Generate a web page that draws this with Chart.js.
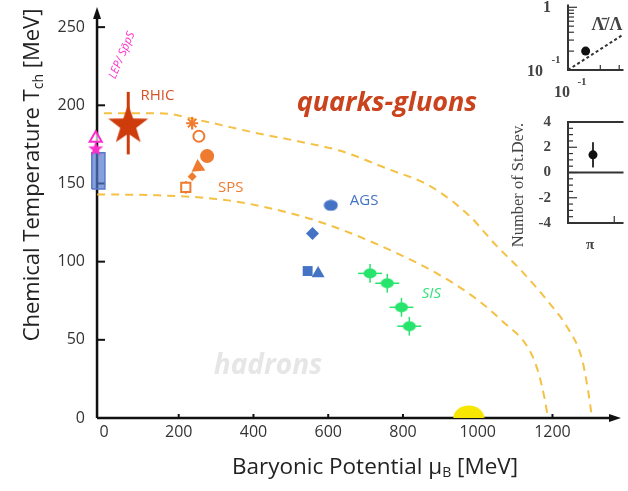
<!DOCTYPE html>
<html>
<head>
<meta charset="utf-8">
<script src="https://cdn.jsdelivr.net/npm/chart.js@4.4.0/dist/chart.umd.min.js"></script>
<style>
body { margin: 0; background: #fff; }
#wrap { position: relative; width: 628px; height: 491px; overflow: hidden; }
canvas { position: absolute; }
</style>
</head>
<body>
<div id="wrap">
  <canvas id="main" width="628" height="491" style="left:0;top:0"></canvas>
  <canvas id="ratio" width="128" height="110" style="left:500px;top:0"></canvas>
  <canvas id="stdev" width="128" height="150" style="left:500px;top:105px"></canvas>
</div>
<script>
// ticks
const xTicks = [0, 200, 400, 600, 800, 1000, 1200]
const yTicks = [0, 50, 100, 150, 200, 250]

// LEP / SppS
const lepTriMu = [-22], lepTriT = [179]
const lepStarMu = [-22], lepStarT = [172.5]
const lepBoxMu = [-32.5, 2.6]
const lepBoxT = [146.4, 169.6]

// RHIC
const rhicMu = [65], rhicT = [188.6], rhicErrT = [20]

// SPS
const spsOpenStarMu = [236], spsOpenStarT = [188.6], spsOpenStarErrT = [4]
const spsOpenCircMu = [254], spsOpenCircT = [180.2]
const spsCircMu = [276], spsCircT = [167.5]
const spsTriMu = [252], spsTriT = [160.5]
const spsDiaMu = [236], spsDiaT = [154.5]
const spsOpenSqMu = [219], spsOpenSqT = [147.5], spsOpenSqErrT = [4]

// AGS
const agsCircMu = [607], agsCircT = [136]
const agsDiaMu = [558], agsDiaT = [118]
const agsSqMu = [545], agsSqT = [94]
const agsTriMu = [573], agsTriT = [92.5]

// SIS
const sisMu = [712, 758, 796, 817]
const sisT = [92.5, 86.2, 70.8, 58.7]
const sisErrMu = [32, 32, 32, 32]
const sisErrT = [6, 6, 6, 6]

// nuclear matter
const nucMu = [976], nucT = [0]

// freeze-out / transition curves
const outerMu = [0, 148, 254, 413, 519, 632, 765, 870, 976, 1048, 1119, 1188, 1241, 1278, 1294, 1306]
const outerT = [195, 195, 190.5, 182, 177, 170.9, 158.8, 148.7, 129.7, 110.7, 93.6, 74.6, 57.5, 38.5, 19.5, 0]
const innerMu = [-18, 148, 333, 519, 632, 783, 897, 995, 1066, 1135, 1161, 1180, 1188]
const innerT = [143, 142.4, 139.2, 129.7, 120.8, 105.5, 91.6, 76.4, 61.9, 44.8, 30.2, 11.2, 0]

// inset: antilambda / lambda
const ratioDotX = [0.146], ratioDotY = [0.2]
const ratioLineX = [0.1, 0.329], ratioLineY = [0.1, 0.37]
const ratioMinorY = [0.2, 0.3, 0.4, 0.5, 0.6, 0.7, 0.8, 0.9, 1]
const ratioMinorX = [0.2, 0.3]

// inset: number of st.dev.
const devX = [1.08], devY = [1.4], devErr = [1]
const devTicks = [-4, -2, 0, 2, 4]

const pts = (a, b) => a.map((v, i) => ({x: v, y: b[i]}))

function starImage(r, color) {
  const c = document.createElement('canvas')
  c.width = c.height = Math.ceil(r * 2 + 2)
  const g = c.getContext('2d')
  g.translate(c.width / 2, c.height / 2 + r * 0.1)
  g.beginPath()
  for (let i = 0; i < 10; i++) {
    const rr = i % 2 ? r * 0.4 : r
    const a = -Math.PI / 2 + i * Math.PI / 5
    g.lineTo(rr * Math.cos(a), rr * Math.sin(a))
  }
  g.closePath()
  g.fillStyle = color
  g.fill()
  return c
}

function ellipseImage(w, h, color) {
  const c = document.createElement('canvas')
  c.width = w
  c.height = h
  const g = c.getContext('2d')
  g.beginPath()
  g.ellipse(w / 2, h / 2, w / 2 - 0.5, h / 2 - 0.5, 0, 0, Math.PI * 2)
  g.fillStyle = color
  g.fill()
  return c
}

const RED = '#cf3c0c', ORANGE = '#ef7b30', BLUE = '#4472c4', GREEN = '#27e46c', PINK = '#ff2ccb'
const DASH = '#f4c144'

const errorBars = [
  {mu: rhicMu, t: rhicT, dT: rhicErrT, color: RED, width: 3},
  {mu: spsOpenStarMu, t: spsOpenStarT, dT: spsOpenStarErrT, color: ORANGE, width: 2},
  {mu: spsOpenSqMu, t: spsOpenSqT, dT: spsOpenSqErrT, color: ORANGE, width: 2},
  {mu: sisMu, t: sisT, dT: sisErrT, dMu: sisErrMu, color: GREEN, width: 1.5}
]

const labels = [
  {text: 'RHIC', mu: 143, t: 206.4, color: '#d6532a', font: '15px "Open Sans"'},
  {text: 'SPS', mu: 339, t: 147.5, color: ORANGE, font: '15px "Open Sans"'},
  {text: 'AGS', mu: 696, t: 139.2, color: BLUE, font: '15px "Open Sans"'},
  {text: 'SIS', mu: 876, t: 79.7, color: '#35e07a', font: 'italic 15px "Open Sans"'},
  {text: 'quarks-gluons', mu: 757, t: 201.3, color: '#c9431d', font: 'italic bold 27px "Open Sans"'},
  {text: 'hadrons', mu: 439, t: 33.4, color: '#e6e6e6', font: 'italic bold 28px "Open Sans"'},
  {text: 'LEP/ Sp\u0304pS', mu: 48, t: 232, color: PINK, font: 'italic 11.5px "Open Sans"', angle: -67}
]

function drawParts(ctx, parts, cx, cy, angle) {
  ctx.save()
  ctx.translate(cx, cy)
  ctx.rotate(angle)
  let total = 0
  parts.forEach(p => { ctx.font = p.size + 'px "Open Sans"'; total += ctx.measureText(p.text).width })
  let x = -total / 2
  const base = parts[0].size * 0.36
  ctx.textBaseline = 'alphabetic'
  ctx.textAlign = 'left'
  parts.forEach(p => {
    ctx.font = p.size + 'px "Open Sans"'
    ctx.fillText(p.text, x, base + (p.dy || 0))
    x += ctx.measureText(p.text).width
  })
  ctx.restore()
}

const noPad = s => { s.paddingTop = 0; s.paddingBottom = 0; s.paddingLeft = 0; s.paddingRight = 0 }

const mainDeco = {
  id: 'mainDeco',
  beforeDatasetsDraw(chart) {
    const {ctx, scales: {x, y}} = chart
    ctx.save()
    errorBars.forEach(e => {
      ctx.strokeStyle = e.color
      ctx.lineWidth = e.width
      e.mu.forEach((m, i) => {
        const px = x.getPixelForValue(m), py = y.getPixelForValue(e.t[i])
        if (e.dT) {
          ctx.beginPath()
          ctx.moveTo(px, y.getPixelForValue(e.t[i] - e.dT[i]))
          ctx.lineTo(px, y.getPixelForValue(e.t[i] + e.dT[i]))
          ctx.stroke()
        }
        if (e.dMu) {
          ctx.beginPath()
          ctx.moveTo(x.getPixelForValue(m - e.dMu[i]), py)
          ctx.lineTo(x.getPixelForValue(m + e.dMu[i]), py)
          ctx.stroke()
        }
      })
    })

    // axes with arrows
    const ax = x.getPixelForValue(-18.5), ay = y.getPixelForValue(0)
    const a = chart.chartArea
    ctx.strokeStyle = '#111'
    ctx.fillStyle = '#111'
    ctx.lineWidth = 2.5
    ctx.beginPath()
    ctx.moveTo(ax, ay)
    ctx.lineTo(ax, a.top + 8)
    ctx.moveTo(ax, ay)
    ctx.lineTo(a.right - 6, ay)
    ctx.stroke()
    ctx.beginPath()
    ctx.moveTo(ax, a.top - 2); ctx.lineTo(ax - 4, a.top + 10); ctx.lineTo(ax + 4, a.top + 10); ctx.closePath()
    ctx.fill()
    ctx.beginPath()
    ctx.moveTo(a.right + 2, ay); ctx.lineTo(a.right - 10, ay - 4); ctx.lineTo(a.right - 10, ay + 4); ctx.closePath()
    ctx.fill()
    ctx.lineWidth = 2
    yTicks.slice(1).forEach(v => {
      const py = y.getPixelForValue(v)
      ctx.beginPath(); ctx.moveTo(ax, py); ctx.lineTo(ax + 8, py); ctx.stroke()
    })
    xTicks.slice(1).forEach(v => {
      const px = x.getPixelForValue(v)
      ctx.beginPath(); ctx.moveTo(px, ay); ctx.lineTo(px, ay - 4); ctx.stroke()
    })
    ctx.restore()
  },
  afterDatasetsDraw(chart) {
    const {ctx, scales: {x, y}} = chart
    ctx.save()
    ctx.textAlign = 'center'
    ctx.textBaseline = 'middle'
    labels.forEach(l => {
      ctx.save()
      ctx.translate(x.getPixelForValue(l.mu), y.getPixelForValue(l.t))
      if (l.angle) ctx.rotate(l.angle * Math.PI / 180)
      ctx.font = l.font
      ctx.fillStyle = l.color
      ctx.fillText(l.text, 0, 0)
      ctx.restore()
    })
    ctx.fillStyle = '#222'
    drawParts(ctx, [
      {text: 'Chemical Temperature T', size: 22},
      {text: 'ch', size: 14, dy: 4},
      {text: ' [MeV]', size: 22}
    ], 31, 175, -Math.PI / 2)
    drawParts(ctx, [
      {text: 'Baryonic Potential \u03bc', size: 22.5},
      {text: 'B', size: 14, dy: 3},
      {text: ' [MeV]', size: 22.5}
    ], 375, 466, 0)
    ctx.restore()
  }
}

new Chart(document.getElementById('main'), {
  type: 'scatter',
  data: {
    datasets: [
      {data: pts(rhicMu, rhicT), pointStyle: starImage(21, RED), clip: false},
      {data: pts(lepStarMu, lepStarT), pointStyle: starImage(8, PINK), clip: false},
      {data: pts(lepTriMu, lepTriT), pointStyle: 'triangle', pointRadius: 7, borderWidth: 2,
        borderColor: PINK, backgroundColor: 'rgba(255,255,255,0.7)', clip: false},
      {data: pts(spsOpenStarMu, spsOpenStarT), pointStyle: 'star', pointRadius: 6, borderWidth: 2,
        borderColor: ORANGE, clip: false},
      {data: pts(spsOpenCircMu, spsOpenCircT), pointStyle: 'circle', pointRadius: 5.5, borderWidth: 2,
        borderColor: ORANGE, backgroundColor: '#fff', clip: false},
      {data: pts(spsCircMu, spsCircT), pointStyle: 'circle', pointRadius: 7, borderWidth: 0,
        backgroundColor: ORANGE, clip: false},
      {data: pts(spsTriMu, spsTriT), pointStyle: 'triangle', pointRadius: 8, rotation: 235, borderWidth: 0,
        backgroundColor: ORANGE, clip: false},
      {data: pts(spsDiaMu, spsDiaT), pointStyle: 'rectRot', pointRadius: 4.5, borderWidth: 0,
        backgroundColor: ORANGE, clip: false},
      {data: pts(spsOpenSqMu, spsOpenSqT), pointStyle: 'rect', pointRadius: 6.5, borderWidth: 2,
        borderColor: ORANGE, backgroundColor: '#fff', clip: false},
      {data: pts(agsCircMu, agsCircT), pointStyle: ellipseImage(15, 12, BLUE), clip: false},
      {data: pts(agsDiaMu, agsDiaT), pointStyle: 'rectRot', pointRadius: 6.5, borderWidth: 0,
        backgroundColor: BLUE, clip: false},
      {data: pts(agsSqMu, agsSqT), pointStyle: 'rect', pointRadius: 7, borderWidth: 0,
        backgroundColor: BLUE, clip: false},
      {data: pts(agsTriMu, agsTriT), pointStyle: 'triangle', pointRadius: 7.5, borderWidth: 0,
        backgroundColor: BLUE, clip: false},
      {data: pts(sisMu, sisT), pointStyle: ellipseImage(14, 11, GREEN), clip: false},
      {data: pts(nucMu, nucT), pointStyle: ellipseImage(32, 26, '#f6e600')},
      {type: 'line', data: [{x: lepBoxMu[0], y: lepBoxT[0]}, {x: lepBoxMu[0], y: lepBoxT[1]},
          {x: lepBoxMu[1], y: lepBoxT[1]}, {x: lepBoxMu[1], y: lepBoxT[0]}, {x: lepBoxMu[0], y: lepBoxT[0]}],
        borderColor: '#5a78c8', borderWidth: 1.5, pointRadius: 0, fill: false, tension: 0, clip: false},
      {type: 'line', data: [{x: lepBoxMu[0], y: lepBoxT[1]}, {x: lepBoxMu[1], y: lepBoxT[1]}],
        fill: {value: lepBoxT[0]}, backgroundColor: 'rgba(82,120,205,0.7)', borderWidth: 0, pointRadius: 0},
      {type: 'line', data: pts(outerMu, outerT), borderColor: DASH, borderWidth: 2, borderDash: [8, 6],
        pointRadius: 0, fill: false, cubicInterpolationMode: 'monotone', clip: false},
      {type: 'line', data: pts(innerMu, innerT), borderColor: DASH, borderWidth: 2, borderDash: [8, 6],
        pointRadius: 0, fill: false, cubicInterpolationMode: 'monotone', clip: false}
    ]
  },
  options: {
    responsive: false,
    animation: false,
    layout: {padding: {left: 0, right: 3, top: 5, bottom: 0}},
    plugins: {legend: {display: false}, tooltip: {enabled: false}},
    scales: {
      x: {
        type: 'linear', min: -40, max: 1378,
        grid: {display: false, drawTicks: false}, border: {display: false},
        afterBuildTicks: s => { s.ticks = xTicks.map(v => ({value: v})) },
        afterFit: s => { s.height = 73; noPad(s) },
        ticks: {font: {family: 'Open Sans', size: 16}, color: '#333', padding: 5, maxRotation: 0,
          autoSkip: false, callback: v => String(v)}
      },
      y: {
        type: 'linear', min: 0, max: 261.6,
        grid: {display: false, drawTicks: false}, border: {display: false},
        afterBuildTicks: s => { s.ticks = yTicks.map(v => ({value: v})) },
        afterFit: s => { s.width = 89; noPad(s) },
        ticks: {font: {family: 'Open Sans', size: 16}, color: '#333', padding: 4, autoSkip: false,
          callback: v => String(v)}
      }
    }
  },
  plugins: [mainDeco]
})

// --- inset: antilambda/lambda ---
const SERIF = '"Liberation Serif"'
const ratioDeco = {
  id: 'ratioDeco',
  beforeDatasetsDraw(chart) {
    const {ctx, chartArea: a, scales: {x, y}} = chart
    ctx.save()
    ctx.strokeStyle = '#333'
    ctx.lineWidth = 2
    ctx.beginPath()
    ctx.moveTo(a.left, a.top); ctx.lineTo(a.left, a.bottom); ctx.lineTo(a.right, a.bottom)
    ctx.stroke()
    ctx.lineWidth = 1.2
    ratioMinorY.forEach(v => {
      const py = y.getPixelForValue(v)
      ctx.beginPath(); ctx.moveTo(a.left, py); ctx.lineTo(a.left + (v === 1 ? 9 : 6), py); ctx.stroke()
    })
    ratioMinorX.forEach(v => {
      const px = x.getPixelForValue(v)
      ctx.beginPath(); ctx.moveTo(px, a.bottom); ctx.lineTo(px, a.bottom - 5); ctx.stroke()
    })
    ctx.fillStyle = '#444'
    ctx.textAlign = 'center'
    ctx.textBaseline = 'middle'
    ctx.font = 'bold 16px ' + SERIF
    ctx.fillText('1', 47, y.getPixelForValue(1) + 1)
    ctx.fillText('10', 35, 72)
    ctx.fillText('10', 62, 93)
    ctx.font = 'bold 11px ' + SERIF
    ctx.fillText('-1', 56, 60)
    ctx.fillText('-1', 82, 82)
    ctx.font = 'bold 18px ' + SERIF
    ctx.fillText('\u039b\u0304/\u039b', 107, 25)
    ctx.restore()
  }
}

new Chart(document.getElementById('ratio'), {
  type: 'scatter',
  data: {
    datasets: [
      {data: pts(ratioDotX, ratioDotY), pointRadius: 4.5, backgroundColor: '#111', borderWidth: 0, clip: false},
      {type: 'line', data: pts(ratioLineX, ratioLineY), borderColor: '#333', borderWidth: 2,
        borderDash: [3, 2.5], pointRadius: 0, fill: false, clip: false}
    ]
  },
  options: {
    responsive: false,
    animation: false,
    layout: {padding: 0},
    plugins: {legend: {display: false}, tooltip: {enabled: false}},
    scales: {
      x: {type: 'logarithmic', min: 0.1, max: 0.329, grid: {display: false, drawTicks: false},
        border: {display: false}, ticks: {display: false}, afterFit: s => { s.height = 40; noPad(s) }},
      y: {type: 'logarithmic', min: 0.1, max: 1.108, grid: {display: false, drawTicks: false},
        border: {display: false}, ticks: {display: false}, afterFit: s => { s.width = 68; noPad(s) }}
    }
  },
  plugins: [ratioDeco]
})

// --- inset: number of st.dev. ---
const devDeco = {
  id: 'devDeco',
  beforeDatasetsDraw(chart) {
    const {ctx, chartArea: a, scales: {x, y}} = chart
    ctx.save()
    ctx.strokeStyle = '#333'
    ctx.lineWidth = 2
    ctx.beginPath()
    ctx.moveTo(a.right, a.top); ctx.lineTo(a.left, a.top); ctx.lineTo(a.left, a.bottom); ctx.lineTo(a.right, a.bottom)
    ctx.moveTo(a.left, y.getPixelForValue(0)); ctx.lineTo(a.right, y.getPixelForValue(0))
    ctx.stroke()
    ctx.lineWidth = 1.2
    for (let v = -4; v <= 4; v += 0.5) {
      const py = y.getPixelForValue(v)
      ctx.beginPath(); ctx.moveTo(a.left, py); ctx.lineTo(a.left + (v % 2 === 0 ? 9 : 5), py); ctx.stroke()
    }
    const tx = x.getPixelForValue(2)
    ctx.beginPath(); ctx.moveTo(tx, a.bottom); ctx.lineTo(tx, a.bottom - 7); ctx.stroke()
    ctx.lineWidth = 2
    devX.forEach((v, i) => {
      const px = x.getPixelForValue(v)
      ctx.beginPath()
      ctx.moveTo(px, y.getPixelForValue(devY[i] - devErr[i]))
      ctx.lineTo(px, y.getPixelForValue(devY[i] + devErr[i]))
      ctx.stroke()
    })
    ctx.fillStyle = '#444'
    ctx.textAlign = 'center'
    ctx.textBaseline = 'middle'
    ctx.font = 'bold 15px ' + SERIF
    ctx.fillText('\u03c0', 90, 140)
    ctx.save()
    ctx.translate(19, 80)
    ctx.rotate(-Math.PI / 2)
    ctx.font = '16.5px ' + SERIF
    ctx.fillText('Number of St.Dev.', 0, 0)
    ctx.restore()
    ctx.restore()
  }
}

new Chart(document.getElementById('stdev'), {
  type: 'scatter',
  data: {
    datasets: [
      {data: pts(devX, devY), pointRadius: 4.5, backgroundColor: '#111', borderWidth: 0, clip: false}
    ]
  },
  options: {
    responsive: false,
    animation: false,
    layout: {padding: {top: 17, left: 0, right: 0, bottom: 0}},
    plugins: {legend: {display: false}, tooltip: {enabled: false}},
    scales: {
      x: {type: 'linear', min: 0, max: 2.4, grid: {display: false, drawTicks: false},
        border: {display: false}, ticks: {display: false}, afterFit: s => { s.height = 32; noPad(s) }},
      y: {type: 'linear', min: -4, max: 4, grid: {display: false, drawTicks: false},
        border: {display: false},
        afterBuildTicks: s => { s.ticks = devTicks.map(v => ({value: v})) },
        afterFit: s => { s.width = 68; noPad(s) },
        ticks: {font: {family: 'Liberation Serif', size: 15, weight: 'bold'}, color: '#444', padding: 17}}
    }
  },
  plugins: [devDeco]
})
</script>
</body>
</html>
